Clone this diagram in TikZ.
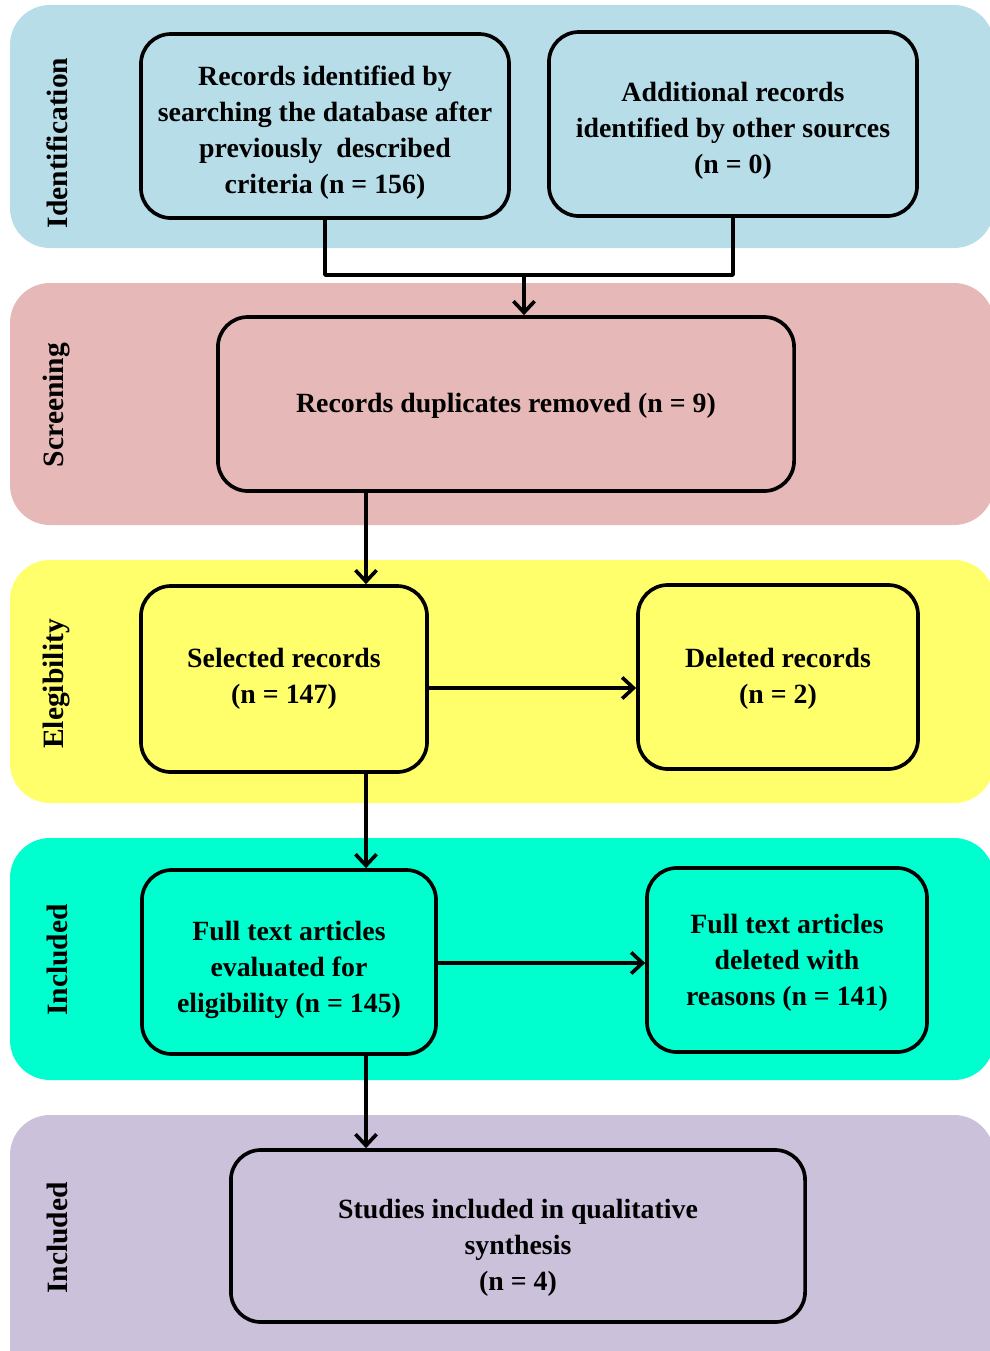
\documentclass[tikz,border=0pt]{standalone}
\usepackage{fontspec}
\setmainfont{Liberation Serif}
\usetikzlibrary{arrows.meta}
\definecolor{idblue}{HTML}{B7DDE8}
\definecolor{scrpink}{HTML}{E6B9B8}
\definecolor{eliyellow}{HTML}{FFFF6B}
\definecolor{incaqua}{HTML}{00FFCF}
\definecolor{inclav}{HTML}{CCC1DA}
% taller first line, pushes the text of a box down
\newcommand{\pushdown}[1]{\rule{0pt}{#1}}
\begin{document}
\begin{tikzpicture}[x=0.025cm,y=-0.025cm,line join=round,
  band/.style={rounded corners=1cm},
  phase/.style={rotate=90,font=\fontsize{21}{24}\selectfont\bfseries},
  box/.style={draw,line width=2.6pt,rounded corners=0.75cm,align=center,inner sep=0pt,
    font=\fontsize{19.8}{25.6}\selectfont\bfseries},
  link/.style={line width=2.6pt},
  arr/.style={line width=2.6pt,-{Straight Barb[length=8pt,width=15pt]}}]
\useasboundingbox (0,0) rectangle (990,1351);
\clip (0,0) rectangle (990,1351);
% phase bands
\fill[band,idblue](10,5) rectangle (994,248);
\fill[band,scrpink](10,283) rectangle (994,525);
\fill[band,eliyellow](10,560) rectangle (994,803);
\fill[band,incaqua](10,838) rectangle (994,1080);
\fill[band,inclav](10,1115) rectangle (994,1400);
\node[phase] (ident) at (57,143) {Identification};
\node[phase] (screen) at (57,405) {Screening};
\node[phase] (elig) at (57,684) {Elegibility};
\node[phase] (incl) at (57,960) {Included};
\node[phase] (incl2) at (57,1238) {Included};
% boxes
\node[box,minimum width=9.2cm,minimum height=4.6cm] (b1) at (325,126)
  {\pushdown{23.5pt}Records identified by\\searching the database after\\previously\ \ described\\criteria (n = 156)};
\node[box,minimum width=9.2cm,minimum height=4.6cm] (b2) at (733,124)
  {\pushdown{24pt}Additional records\\identified by other sources\\(n = 0)};
\node[box,minimum width=14.4cm,minimum height=4.35cm] (b3) at (506,404)
  {\pushdown{16pt}Records duplicates removed (n = 9)};
\node[box,minimum width=7.15cm,minimum height=4.65cm] (b4) at (284,679)
  {Selected records\\(n = 147)};
\node[box,minimum width=7.0cm,minimum height=4.6cm] (b5) at (778,677)
  {\pushdown{16pt}Deleted records\\(n = 2)};
\node[box,minimum width=7.35cm,minimum height=4.6cm] (b6) at (289,962)
  {\pushdown{25pt}Full text articles\\evaluated for\\eligibility (n = 145)};
\node[box,minimum width=7.0cm,minimum height=4.6cm] (b7) at (787,960)
  {\pushdown{17.7pt}Full text articles\\deleted with\\reasons (n = 141)};
\node[box,minimum width=14.35cm,minimum height=4.3cm] (b8) at (518,1236)
  {\pushdown{31pt}Studies included in qualitative\\synthesis\\(n = 4)};
% connectors
\coordinate (join) at (524,275);
\coordinate (spine) at (366,0);
\coordinate (row4) at (0,688);
\coordinate (row6) at (0,963);
\draw[link] (b1.south) |- (join) -| (b2.south);
\draw[arr] (join) -- (b3.north -| join);
\draw[arr] (b3.south -| spine) -- (b4.north -| spine);
\draw[arr] (b4.east |- row4) -- (b5.west |- row4);
\draw[arr] (b4.south -| spine) -- (b6.north -| spine);
\draw[arr] (b6.east |- row6) -- (b7.west |- row6);
\draw[arr] (b6.south -| spine) -- (b8.north -| spine);
\end{tikzpicture}
\end{document}
